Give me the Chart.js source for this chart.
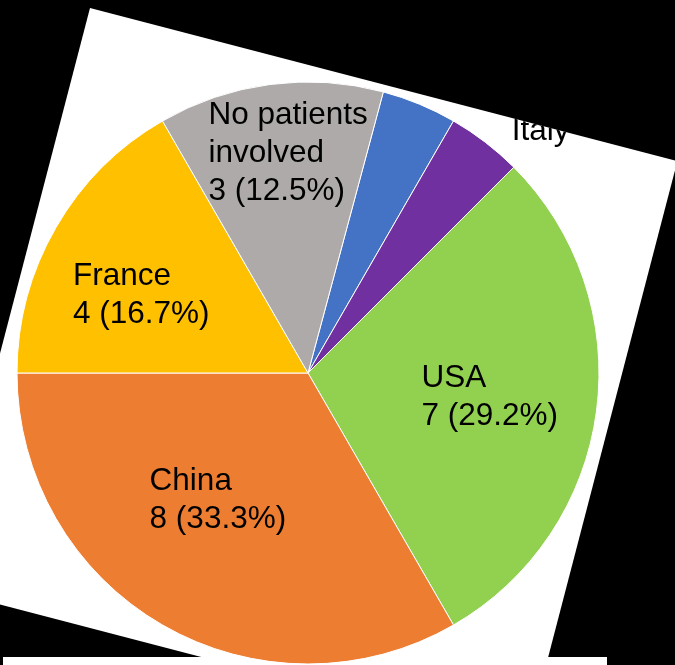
<!DOCTYPE html>
<html>
<head>
<meta charset="utf-8">
<script src="https://cdn.jsdelivr.net/npm/chart.js@4/dist/chart.umd.min.js"></script>
<style>
  html, body { margin: 0; padding: 0; background: #000; }
  #wrap { width: 675px; height: 665px; }
</style>
</head>
<body>
<div id="wrap"><canvas id="pie" width="675" height="665"></canvas></div>
<script>
// Studies by country of origin
const countries = ['UK', 'Italy', 'USA', 'China', 'France', 'No patients involved'];
const studies = [1, 1, 7, 8, 4, 3];
const sliceColors = ['#4472C4', '#7030A0', '#92D050', '#ED7D31', '#FFC000', '#AEAAAA'];

// Tilted white sheet the chart sits on
const sheet = { x: 90, y: 8, w: 607, h: 600, deg: 14.6 };

function sheetPath(ctx) {
  const a = sheet.deg * Math.PI / 180, c = Math.cos(a), s = Math.sin(a);
  const p0 = [sheet.x, sheet.y];
  const p1 = [p0[0] + sheet.w * c, p0[1] + sheet.w * s];
  const p2 = [p1[0] - sheet.h * s, p1[1] + sheet.h * c];
  const p3 = [p0[0] - sheet.h * s, p0[1] + sheet.h * c];
  ctx.beginPath();
  ctx.moveTo(p0[0], p0[1]);
  ctx.lineTo(p1[0], p1[1]);
  ctx.lineTo(p2[0], p2[1]);
  ctx.lineTo(p3[0], p3[1]);
  ctx.closePath();
}

const backdrop = {
  id: 'backdrop',
  beforeDraw(chart) {
    const ctx = chart.ctx;
    ctx.save();
    ctx.fillStyle = '#000';
    ctx.fillRect(0, 0, chart.width, chart.height);
    ctx.fillStyle = '#fff';
    sheetPath(ctx);
    ctx.fill();
    ctx.fillRect(3, 657, 604, 8);
    ctx.restore();
  }
};

const sliceLabels = {
  id: 'sliceLabels',
  afterDatasetsDraw(chart, args, opts) {
    const ctx = chart.ctx;
    const meta = chart.getDatasetMeta(0);
    const values = chart.data.datasets[0].data;
    const total = values.reduce((a, b) => a + b, 0);
    ctx.save();
    sheetPath(ctx);
    ctx.clip();
    ctx.font = opts.font;
    ctx.fillStyle = opts.color;
    ctx.textBaseline = 'middle';
    ctx.textAlign = 'left';
    meta.data.forEach((arc, i) => {
      const v = values[i];
      const share = v / total;
      const name = chart.data.labels[i];
      let lines;
      if (share < 0.05) {
        lines = [name];
      } else {
        lines = name === 'No patients involved' ? ['No patients', 'involved'] : [name];
        lines.push(v + ' (' + (share * 100).toFixed(1) + '%)');
      }
      const mid = (arc.startAngle + arc.endAngle) / 2;
      const f = opts.radial[i];
      const nudge = opts.nudge[i];
      const cx = arc.x + Math.cos(mid) * arc.outerRadius * f + nudge[0];
      const cy = arc.y + Math.sin(mid) * arc.outerRadius * f + nudge[1];
      const w = Math.max(...lines.map(t => ctx.measureText(t).width));
      const x0 = cx - w / 2;
      lines.forEach((t, k) => {
        ctx.fillText(t, x0, cy + (k - (lines.length - 1) / 2) * opts.lineHeight);
      });
    });
    ctx.restore();
  }
};

new Chart(document.getElementById('pie'), {
  type: 'pie',
  data: {
    labels: countries,
    datasets: [{
      data: studies,
      backgroundColor: sliceColors,
      borderColor: '#ffffff',
      borderWidth: 1,
      radius: 291
    }]
  },
  options: {
    responsive: false,
    animation: false,
    rotation: 15,
    layout: { padding: { left: 17, right: 76, top: 82, bottom: 1 } },
    plugins: {
      legend: { display: false },
      tooltip: { enabled: false },
      sliceLabels: {
        font: '31.5px "Liberation Sans", Arial, sans-serif',
        color: '#000',
        lineHeight: 38,
        radial: [1.15, 1.15, 0.63, 0.53, 0.63, 0.76],
        nudge: [[0, 0], [29, 24], [0, 0], [-13, -6], [-8, 14], [9, 0]]
      }
    }
  },
  plugins: [backdrop, sliceLabels]
});
</script>
</body>
</html>
